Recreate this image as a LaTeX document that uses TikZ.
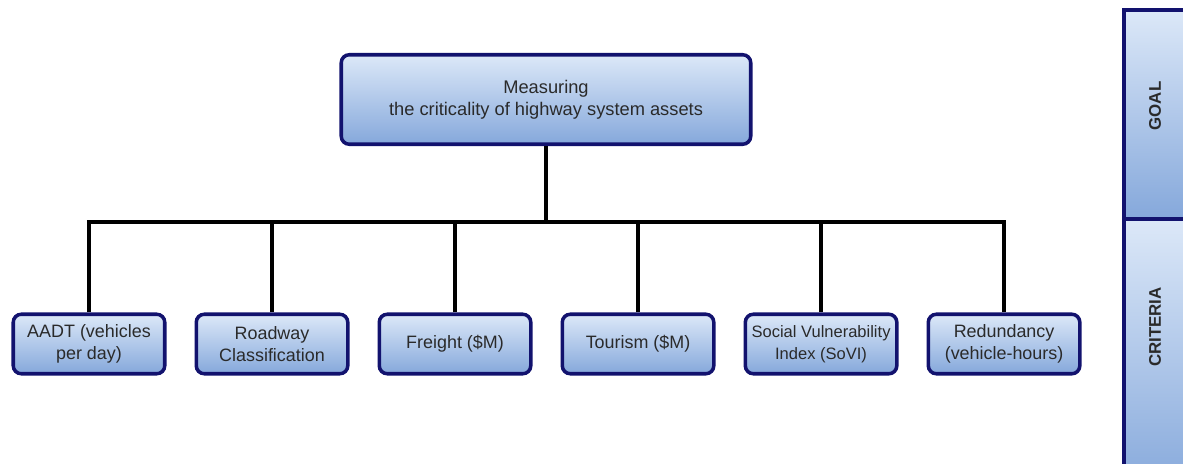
\documentclass[tikz,border=0pt]{standalone}
\usepackage{fontspec}
\setmainfont{Liberation Sans}
\usetikzlibrary{positioning}

\definecolor{boxline}{HTML}{12126E}
\definecolor{boxtop}{HTML}{DCE8F8}
\definecolor{boxbottom}{HTML}{85A8DB}
\definecolor{txt}{HTML}{2A2A2A}

\begin{document}
\begin{tikzpicture}[node distance={0.56cm}, thick,
    crit/.style = {draw=boxline, line width=2pt, rounded corners=0.16cm, top color=boxtop, bottom color=boxbottom,
                   minimum width=3.03cm, minimum height=1.19cm, inner sep=0pt, align=center, text=txt,
                   font=\fontsize{10.2}{12.5}\selectfont},
    aim/.style = {crit, minimum width=8.19cm, minimum height=1.79cm, font=\fontsize{10.4}{12.5}\selectfont},
    band/.style = {draw=boxline, line width=2pt, top color=boxtop, bottom color=boxbottom},
    tag/.style = {rotate=90, text=txt, font=\bfseries\fontsize{9.6}{11}\selectfont},
    tie/.style = {line width=2.4pt}]
    \useasboundingbox (0,0) rectangle (23.66,9.26);

    % goal
    \node[aim] (goal) at (10.92,7.27) {Measuring\\the criticality of highway system assets};

    % criteria
    \node[crit] (c1) at (1.78,2.38) {AADT (vehicles\\per day)};
    \node[crit](c2)[right=of c1]{Roadway\\Classification};
    \node[crit](c3)[right=of c2]{Freight (\$M)};
    \node[crit](c4)[right=of c3]{Tourism (\$M)};
    \node[crit, font=\fontsize{9.4}{12.5}\selectfont](c5)[right=of c4]{Social Vulnerability\\Index (SoVI)};
    \node[crit](c6)[right=of c5]{Redundancy\\(vehicle-hours)};

    \coordinate (bus) at (0,4.82);

    \draw[tie] (goal.south) -- (goal.south |- bus);
    \draw[line width=2.8pt] ([xshift=-1.2pt]c1.north |- bus) -- ([xshift=1.2pt]c6.north |- bus);
    \foreach \i in {1,...,6}
        \draw[tie] (c\i.north) -- (c\i.north |- bus);

    % levels on the right
    \draw[band] (22.48,4.88) rectangle (24.6,9.06);
    \draw[band] (22.48,-0.6) rectangle (24.6,4.88);
    \node[tag] (goaltag) at (23.1,7.14) {GOAL};
    \node[tag] (crittag) at (23.1,2.72) {CRITERIA};
\end{tikzpicture}
\end{document}
